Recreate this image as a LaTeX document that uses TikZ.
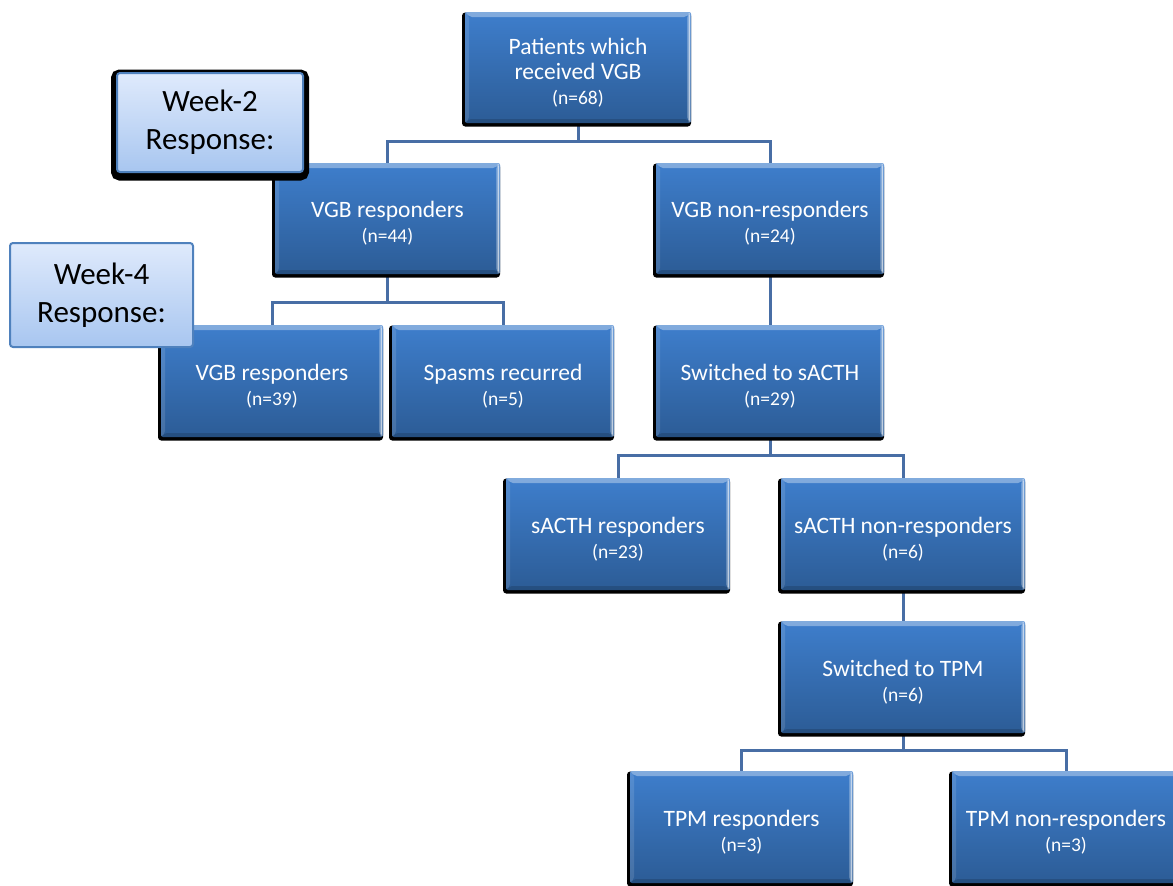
\documentclass[tikz,border=0pt]{standalone}
\usepackage{fontspec}
\setmainfont{Carlito}
\usetikzlibrary{shadows,calc}
\pgfdeclarelayer{bg}
\pgfsetlayers{bg,main}
\definecolor{boxtop}{RGB}{62,126,204}
\definecolor{boxbot}{RGB}{44,92,150}
\definecolor{conncol}{RGB}{72,110,165}
\definecolor{labtop}{RGB}{223,234,252}
\definecolor{labbot}{RGB}{168,198,240}
\definecolor{labline}{RGB}{79,129,189}
\tikzset{
  box/.style={rectangle, inner sep=0pt, rounded corners=2pt,
    top color=boxtop, bottom color=boxbot, text=white, align=center,
    font=\fontsize{23.5}{25}\selectfont,
    general shadow={fill=black, draw=black, line width=3pt, rounded corners=3pt,
      shadow xshift=-1.5pt, shadow yshift=-2pt},
    path picture={
      \coordinate (pNW) at (path picture bounding box.north west);
      \coordinate (pNE) at (path picture bounding box.north east);
      \coordinate (pSW) at (path picture bounding box.south west);
      \coordinate (pSE) at (path picture bounding box.south east);
      \fill[white, opacity=0.35] (pNW) -- (pNE) -- ([shift={(-5pt,-5pt)}]pNE) -- ([shift={(5pt,-5pt)}]pNW) -- cycle;
      \fill[white, opacity=0.25] (pNE) -- (pSE) -- ([shift={(-4pt,4pt)}]pSE) -- ([shift={(-4pt,-4pt)}]pNE) -- cycle;
      \fill[white, opacity=0.6] ([shift={(-1.2pt,-1pt)}]pNE) rectangle ([shift={(-2.4pt,1pt)}]pSE);
      \fill[white, opacity=0.12] (pNW) -- (pSW) -- ([shift={(4pt,4pt)}]pSW) -- ([shift={(4pt,-4pt)}]pNW) -- cycle;
      \fill[black, opacity=0.15] (pSW) -- (pSE) -- ([shift={(-4pt,4pt)}]pSE) -- ([shift={(4pt,4pt)}]pSW) -- cycle;
    }},
  conn/.style={draw=conncol, line width=3pt},
  lab/.style={rectangle, inner sep=0pt, rounded corners=3pt, draw=labline, line width=2pt,
    top color=labtop, bottom color=labbot, text=black, align=center,
    font=\fontsize{31}{38}\selectfont},
  labshadow/.style={general shadow={fill=black, draw=black, line width=12pt, rounded corners=6pt,
      shadow yshift=-2.5pt}}
}
\newcommand{\nn}[1]{{\fontsize{19.5}{25}\selectfont #1}}
\newcommand{\st}{\rule{0pt}{26pt}}
\begin{document}
\begin{tikzpicture}[x=1pt,y=-1pt]
\useasboundingbox (0,0) rectangle (1173,886);

\node[box, minimum width=226pt, minimum height=111pt] (top) at (578,67.5) {\st Patients which\\received VGB\\\nn{(n=68)}};
\node[box, minimum width=225pt, minimum height=111pt] (vgbr) at (387.5,218.5) {\st VGB responders\\\nn{(n=44)}};
\node[box, minimum width=228pt, minimum height=111pt] (vgbn) at (770,218.5) {\st VGB non-responders\\\nn{(n=24)}};
\node[box, minimum width=222pt, minimum height=112pt] (vgb39) at (272,381) {\st VGB responders\\\nn{(n=39)}};
\node[box, minimum width=222pt, minimum height=112pt] (spasm) at (503,381) {\st Spasms recurred\\\nn{(n=5)}};
\node[box, minimum width=228pt, minimum height=112pt] (sacth) at (770,381) {\st Switched to sACTH\\\nn{(n=29)}};
\node[box, minimum width=224pt, minimum height=112pt] (sresp) at (618,534) {\st sACTH responders\\\nn{(n=23)}};
\node[box, minimum width=244pt, minimum height=112pt] (snon) at (903,534) {\st sACTH non-responders\\\nn{(n=6)}};
\node[box, minimum width=244pt, minimum height=112pt] (tpm) at (903,677) {\st Switched to TPM\\\nn{(n=6)}};
\node[box, minimum width=223pt, minimum height=112pt] (tresp) at (741.5,827) {\st TPM responders\\\nn{(n=3)}};
\node[box, minimum width=228pt, minimum height=112pt] (tnon) at (1066,827) {\st TPM non-responders\\\nn{(n=3)}};

\coordinate (bus1) at (0,141);
\coordinate (bus2) at (0,302);
\coordinate (bus3) at (0,455);
\coordinate (bus4) at (0,750);

\begin{pgfonlayer}{bg}
\draw[conn] (top.south) -- (top.south |- bus1);
\draw[conn] (vgbr.north) |- (top.south |- bus1) -| (vgbn.north);
\draw[conn] (vgbr.south) -- (vgbr.south |- bus2);
\draw[conn] (vgb39.north) |- (vgbr.south |- bus2) -| (spasm.north);
\draw[conn] (vgbn.south) -- (sacth.north);
\draw[conn] (sacth.south) -- (sacth.south |- bus3);
\draw[conn] (sresp.north) |- (sacth.south |- bus3) -| (snon.north);
\draw[conn] (snon.south) -- (tpm.north);
\draw[conn] (tpm.south) -- (tpm.south |- bus4);
\draw[conn] (tresp.north) |- (tpm.south |- bus4) -| (tnon.north);
\end{pgfonlayer}

\node[lab, labshadow, minimum width=186pt, minimum height=99pt] (wk2) at (210,122.5) {Week-2\\Response:};
\node[lab, minimum width=183pt, minimum height=104pt] (wk4) at (101.5,295) {Week-4\\Response:};
\end{tikzpicture}
\end{document}
